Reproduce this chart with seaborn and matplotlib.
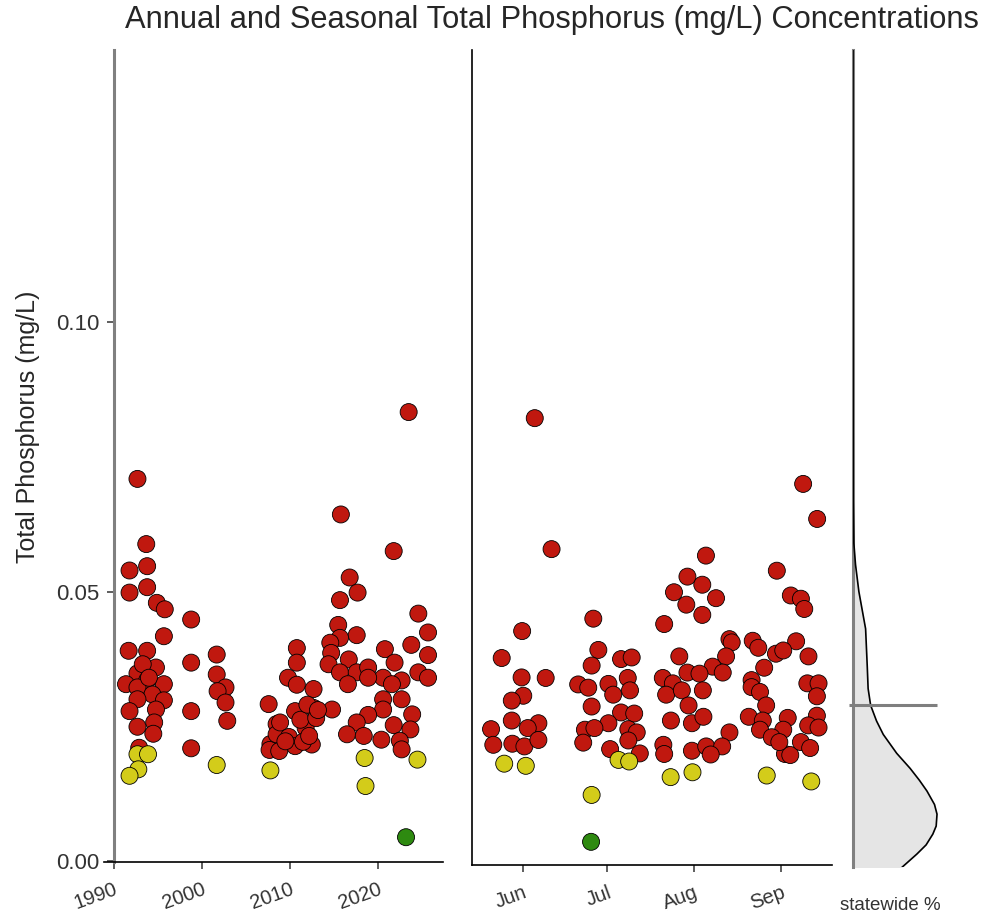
import matplotlib
matplotlib.use("Agg")
import matplotlib.pyplot as plt
import pandas as pd
import seaborn as sns

# ---- annual panel: sample year vs total phosphorus (mg/L)
annual_year = [
    1993.7, 1991.8, 1993.8, 1991.8, 1993.8, 1994.9, 1995.8, 1998.8, 1995.7, 1991.7,
    1993.8, 1998.8, 2001.7, 1994.8, 1992.7, 1991.4, 1993.8, 1995.7, 1992.7, 2001.7,
    2002.7, 2001.8, 1994.4, 1992.7, 1995.7, 2002.7, 1991.8, 1994.8, 1998.8, 1994.6,
    2002.9, 1992.7, 1994.5, 2007.6, 1998.8, 1992.9, 1993.3, 1994.0, 2007.8, 2007.7,
    2008.5, 2008.5, 1992.7, 2023.5,
    1992.7, 1993.9, 1992.8, 1991.8, 2001.7, 2007.8,
    2015.8, 2021.8, 2016.8, 2017.7, 2015.7, 2024.6, 2025.7, 2015.5, 2017.6, 2015.7,
    2014.6, 2023.8, 2020.8, 2010.8, 2025.7, 2014.7, 2010.8, 2016.7, 2021.9, 2014.4,
    2015.7, 2017.6, 2018.9, 2024.6, 2025.7, 2020.6, 2022.7, 2018.9, 2009.8, 2016.6,
    2010.8, 2012.7, 2021.6, 2020.6, 2022.7, 2012.7, 2014.8, 2010.6, 2020.6, 2018.9,
    2023.9, 2008.9, 2017.6, 2021.8, 2023.7, 2011.8, 2016.5, 2018.4, 2020.4, 2009.9,
    2012.5, 2022.5, 2022.7, 2010.6, 2008.8, 2011.2, 2012.0, 2013.0, 2009.5, 2011.5,
    2013.2, 2012.2,
    2018.5, 2024.5, 2018.6, 2023.2,
]
annual_tp = [
    0.0588, 0.0539, 0.0547, 0.0498, 0.0508, 0.0479, 0.0467, 0.0448, 0.0417, 0.0390,
    0.0390, 0.0368, 0.0383, 0.0359, 0.0348, 0.0328, 0.0335, 0.0328, 0.0322, 0.0346,
    0.0322, 0.0315, 0.0309, 0.0300, 0.0298, 0.0294, 0.0278, 0.0281, 0.0278, 0.0257,
    0.0260, 0.0249, 0.0236, 0.0291, 0.0209, 0.0210, 0.0365, 0.0340, 0.0217, 0.0206,
    0.0254, 0.0235, 0.0709, 0.0833,
    0.0198, 0.0198, 0.0170, 0.0158, 0.0178, 0.0168,
    0.0643, 0.0575, 0.0526, 0.0498, 0.0484, 0.0459, 0.0424, 0.0438, 0.0419, 0.0414,
    0.0405, 0.0401, 0.0393, 0.0395, 0.0382, 0.0386, 0.0368, 0.0374, 0.0368, 0.0365,
    0.0350, 0.0350, 0.0359, 0.0350, 0.0340, 0.0340, 0.0335, 0.0340, 0.0340, 0.0328,
    0.0327, 0.0319, 0.0328, 0.0300, 0.0300, 0.0284, 0.0281, 0.0278, 0.0281, 0.0271,
    0.0272, 0.0257, 0.0257, 0.0252, 0.0244, 0.0247, 0.0235, 0.0232, 0.0225, 0.0230,
    0.0216, 0.0223, 0.0207, 0.0213, 0.0204, 0.0262, 0.0290, 0.0265, 0.0222, 0.0221,
    0.0280, 0.0232,
    0.0191, 0.0188, 0.0139, 0.0044,
]

# ---- seasonal panel: day of year vs total phosphorus (mg/L)
season_day = [
    162.1, 151.6, 177.0, 144.3, 178.8, 176.4, 186.9, 190.7, 151.4, 160.0,
    171.6, 175.2, 182.4, 189.3, 152.0, 147.9, 184.1, 190.1, 176.4, 186.9,
    191.6, 147.9, 157.4, 140.5, 153.6, 182.4, 174.0, 177.4, 189.5, 192.5,
    141.3, 148.1, 152.4, 157.4, 173.4, 183.0, 189.5, 193.6, 156.1,
    145.2, 152.9, 186.0, 189.8, 176.4, 176.2,
    217.2, 242.5, 210.6, 215.9, 205.8, 220.8, 210.2, 247.5, 251.1, 252.3,
    215.9, 202.3, 225.6, 226.4, 233.9, 235.9, 249.4, 242.2, 244.8, 253.8,
    207.7, 224.4, 219.6, 238.0, 201.8, 205.4, 210.6, 214.9, 223.2, 233.5,
    253.4, 257.4, 203.0, 208.6, 216.1, 233.5, 236.5, 256.8, 211.0, 238.7,
    204.7, 212.2, 216.3, 232.5, 237.5, 246.4, 256.8, 253.7, 257.4, 225.6,
    236.5, 244.8, 240.7, 202.0, 212.2, 217.3, 223.0, 218.9, 245.4, 247.3,
    251.1, 254.4, 202.3, 243.4, 251.9, 256.9,
    204.6, 212.4, 238.9, 254.8,
]
season_tp = [
    0.0584, 0.0432, 0.0455, 0.0382, 0.0397, 0.0368, 0.0380, 0.0383, 0.0346, 0.0345,
    0.0333, 0.0327, 0.0334, 0.0345, 0.0312, 0.0303, 0.0314, 0.0322, 0.0292, 0.0281,
    0.0279, 0.0266, 0.0261, 0.0250, 0.0252, 0.0261, 0.0249, 0.0252, 0.0250, 0.0244,
    0.0221, 0.0223, 0.0218, 0.0230, 0.0225, 0.0213, 0.0229, 0.0205, 0.0827,
    0.0186, 0.0182, 0.0193, 0.0190, 0.0128, 0.0041,
    0.0572, 0.0544, 0.0533, 0.0518, 0.0504, 0.0493, 0.0481, 0.0498, 0.0492, 0.0473,
    0.0462, 0.0445, 0.0417, 0.0411, 0.0414, 0.0401, 0.0413, 0.0390, 0.0396, 0.0385,
    0.0385, 0.0385, 0.0366, 0.0364, 0.0345, 0.0335, 0.0355, 0.0353, 0.0355, 0.0341,
    0.0335, 0.0335, 0.0314, 0.0322, 0.0322, 0.0328, 0.0319, 0.0311, 0.0294, 0.0294,
    0.0266, 0.0261, 0.0273, 0.0273, 0.0266, 0.0271, 0.0275, 0.0257, 0.0253, 0.0244,
    0.0249, 0.0249, 0.0235, 0.0221, 0.0210, 0.0218, 0.0218, 0.0203, 0.0204, 0.0202,
    0.0226, 0.0215, 0.0204, 0.0226, 0.0705, 0.0640,
    0.0161, 0.0170, 0.0164, 0.0153,
]

year_ticks = [1990, 2000, 2010, 2020]
month_ticks = [152, 182, 213, 244]
month_labels = ["Jun", "Jul", "Aug", "Sep"]

# ---- statewide distribution (relative density)
state_tp = [-0.0012, 0.0013, 0.0030, 0.0050, 0.0065, 0.0087, 0.0105, 0.0130,
            0.0150, 0.0172, 0.0200, 0.0235, 0.0260, 0.0289, 0.0320, 0.0360,
            0.0431, 0.0500, 0.0550, 0.0590, 0.0667, 0.0800, 0.1000, 0.1505]
state_density = [0.58, 0.76, 0.87, 0.95, 0.99, 1.00, 0.97, 0.88,
                 0.79, 0.68, 0.52, 0.36, 0.28, 0.21, 0.18, 0.17,
                 0.15, 0.07, 0.03, 0.01, 0.003, 0.002, 0.001, 0.0]
lake_reference_tp = 0.0289

class_colors = {"high": "#C0180F", "mid": "#D3CC1A", "low": "#2E8A10"}


def tp_class(tp):
    if tp < 0.01:
        return "low"
    if tp < 0.02:
        return "mid"
    return "high"


def px_axes(fig, left, top, right, bottom):
    W, H = 988, 917
    return fig.add_axes([left / W, 1 - bottom / H, (right - left) / W, (bottom - top) / H])


def main():
    sns.set_style("white")
    plt.rcParams["font.family"] = ["Liberation Sans", "DejaVu Sans"]

    annual = pd.DataFrame({"year": annual_year, "tp": annual_tp})
    annual["cls"] = annual["tp"].map(tp_class)
    season = pd.DataFrame({"day": season_day, "tp": season_tp})
    season["cls"] = season["tp"].map(tp_class)

    fig = plt.figure(figsize=(9.88, 9.17), dpi=100)
    ax1 = px_axes(fig, 104, 50, 443, 862)
    ax2 = px_axes(fig, 472, 50, 832, 865)
    ax3 = px_axes(fig, 853, 50, 945, 867)

    point_kw = dict(hue="cls", palette=class_colors, s=150, edgecolor="black",
                    linewidth=0.6, legend=False, zorder=3)
    sns.scatterplot(data=annual, x="year", y="tp", ax=ax1, **point_kw)
    sns.scatterplot(data=season, x="day", y="tp", ax=ax2, **point_kw)

    # annual panel
    ax1.set_xlim(1988.9, 2027.4)
    ax1.set_ylim(-0.0002, 0.1505)
    ax1.set_xticks(year_ticks)
    ax1.set_yticks([0.0, 0.05, 0.10])
    ax1.set_yticklabels(["0.00", "0.05", "0.10"])
    ax1.set_xlabel("")
    ax1.set_ylabel("")
    for s in ["top", "right"]:
        ax1.spines[s].set_visible(False)
    ax1.spines["left"].set_position(("data", 1990))
    ax1.spines["left"].set_color("#808080")
    ax1.spines["left"].set_linewidth(2.2)
    ax1.spines["bottom"].set_color("black")
    ax1.spines["bottom"].set_linewidth(1.2)

    # seasonal panel
    ax2.set_xlim(133.7, 262.2)
    ax2.set_ylim(-0.0002, 0.151)
    ax2.set_xticks(month_ticks)
    ax2.set_xticklabels(month_labels)
    ax2.set_yticks([])
    ax2.set_xlabel("")
    ax2.set_ylabel("")
    for s in ["top", "right"]:
        ax2.spines[s].set_visible(False)
    for s in ["left", "bottom"]:
        ax2.spines[s].set_color("black")
        ax2.spines[s].set_linewidth(1.2)

    for ax in (ax1, ax2):
        ax.tick_params(axis="both", direction="out", length=5, width=1.1,
                       color="#333333", labelsize=14.5, labelcolor="#333333")
        ax.tick_params(axis="x", bottom=True, pad=8)
        for lab in ax.get_xticklabels():
            lab.set_rotation(20)
            lab.set_ha("right")
            lab.set_rotation_mode("anchor")
    ax1.tick_params(axis="y", left=True, labelsize=16, pad=5)

    # statewide density panel
    ax3.fill_betweenx(state_tp, 0, state_density, color="#E5E5E5", linewidth=0)
    sns.lineplot(x=state_density, y=state_tp, orient="y", ax=ax3, color="black",
                 linewidth=1.2, sort=False)
    ax3.hlines(lake_reference_tp, -0.05, 1.0, color="#7F7F7F", linewidth=2.2,
               clip_on=False, zorder=4)
    ax3.set_xlim(0, 1.095)
    ax3.set_ylim(-0.0011, 0.1505)
    ax3.set_xticks([])
    ax3.set_yticks([])
    for s in ["top", "right", "bottom"]:
        ax3.spines[s].set_visible(False)
    ax3.spines["left"].set_color("#808080")
    ax3.spines["left"].set_linewidth(2.2)
    ax3.spines["left"].set_zorder(1)

    fig.text(890 / 988, 1 - 905 / 917, "statewide %", ha="center", va="center",
             fontsize=13.5, color="#333333")
    fig.text(28 / 988, 1 - 427 / 917, "Total Phosphorus (mg/L)", rotation=90,
             ha="center", va="center", fontsize=18)
    fig.text(552 / 988, 1 - 20 / 917,
             "Annual and Seasonal Total Phosphorus (mg/L) Concentrations",
             ha="center", va="center", fontsize=22.2)

    fig.savefig("out.png", dpi=100, facecolor="white")


if __name__ == "__main__":
    main()
